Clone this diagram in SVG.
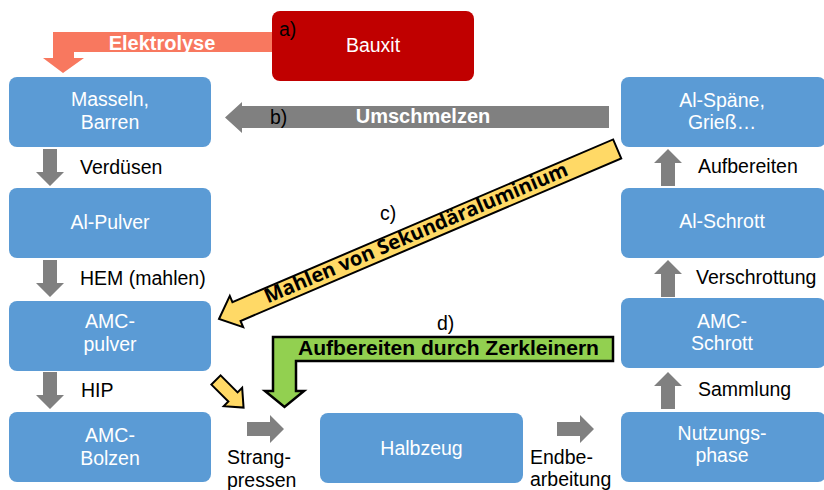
<svg xmlns="http://www.w3.org/2000/svg" width="824" height="490" viewBox="0 0 824 490">
<style>
.box{fill:#5B9BD5}
.bt{font-family:"Liberation Sans",Arial,sans-serif;font-size:19.5px;fill:#fff;text-anchor:middle}
.lb{font-family:"Liberation Sans",Arial,sans-serif;font-size:19.5px;fill:#000}
.bold{font-family:"Liberation Sans",Arial,sans-serif;font-size:20px;font-weight:bold}
.ga{fill:#808080}
</style>
<defs>
<path id="arr" d="M-7,0 H7 V23 H14 L0,37 L-14,23 H-7 Z"/>
</defs>
<rect width="824" height="490" fill="#fff"/>

<g id="connectors">
  <!-- Elektrolyse -->
  <polygon points="280,32 53,32 53,58 43,58 63,73 84,58 74,58 74,52 280,52" fill="#F8785F"/>
  <text class="bold" x="162" y="50" fill="#fff" text-anchor="middle">Elektrolyse</text>
  <!-- Umschmelzen -->
  <polygon points="609,106 242,106 242,102 225,117.5 242,133 242,128 609,128" fill="#808080"/>
  <text class="lb" x="270" y="124">b)</text>
  <text class="bold" x="423" y="123" fill="#fff" text-anchor="middle">Umschmelzen</text>
  <!-- c) Mahlen -->
  <g transform="translate(219,319) rotate(-23.13)">
    <polygon points="0,0 19,-17 19,-10.3 433,-10.3 433,10.3 19,10.3 19,17" fill="#FFD966" stroke="#000" stroke-width="2" stroke-linejoin="miter"/>
    <text x="215" y="5" text-anchor="middle" font-family="'Open Sans','DejaVu Sans',sans-serif" font-weight="bold" font-size="20" fill="#000" textLength="328" lengthAdjust="spacingAndGlyphs">Mahlen von Sekundäraluminium</text>
  </g>
  <text class="lb" x="380" y="220">c)</text>
  <!-- small yellow arrow -->
  <g transform="translate(216,380) rotate(45)">
    <polygon points="0,-6.5 24,-6.5 24,-13 39,0 24,13 24,6.5 0,6.5" fill="#FFD966" stroke="#000" stroke-width="2"/>
  </g>
  <!-- d) green -->
  <polygon points="613,337 273,337 273,391 265,391 284.5,407 304,391 296,391 296,361 613,361" fill="#92D050" stroke="#000" stroke-width="2.5"/>
  <text class="bold" x="298" y="355" fill="#000" textLength="301" lengthAdjust="spacingAndGlyphs">Aufbereiten durch Zerkleinern</text>
  <text class="lb" x="437" y="330">d)</text>

  <!-- gray down arrows left -->
  <use href="#arr" class="ga" transform="translate(50,149)"/>
  <use href="#arr" class="ga" transform="translate(50,260)"/>
  <use href="#arr" class="ga" transform="translate(50,372)"/>
  <!-- up arrows right -->
  <use href="#arr" class="ga" transform="translate(668,186) rotate(180)"/>
  <use href="#arr" class="ga" transform="translate(668,297) rotate(180)"/>
  <use href="#arr" class="ga" transform="translate(668,409) rotate(180)"/>
  <!-- right arrows bottom -->
  <use href="#arr" class="ga" transform="translate(247,429) rotate(-90)"/>
  <use href="#arr" class="ga" transform="translate(557,429) rotate(-90)"/>

  <text class="lb" x="80" y="174">Verdüsen</text>
  <text class="lb" x="80" y="285">HEM (mahlen)</text>
  <text class="lb" x="81" y="397">HIP</text>
  <text class="lb" x="698" y="173">Aufbereiten</text>
  <text class="lb" x="696" y="284">Verschrottung</text>
  <text class="lb" x="698" y="396">Sammlung</text>
  <text class="lb" x="227" y="464">Strang-</text>
  <text class="lb" x="227" y="487">pressen</text>
  <text class="lb" x="530" y="464">Endbe-</text>
  <text class="lb" x="530" y="486">arbeitung</text>
</g>

<g id="bauxit">
  <rect x="272" y="11" width="202" height="70" rx="8" fill="#C00000"/>
  <text class="lb" x="279" y="36">a)</text>
  <text class="bt" x="373" y="52">Bauxit</text>
</g>
<g id="masseln">
  <rect class="box" x="9" y="77" width="202" height="70" rx="8"/>
  <text class="bt" x="110" y="106">Masseln,</text>
  <text class="bt" x="110" y="129">Barren</text>
</g>
<g id="alpulver">
  <rect class="box" x="9" y="188" width="202" height="70" rx="8"/>
  <text class="bt" x="110" y="229">Al-Pulver</text>
</g>
<g id="amcpulver">
  <rect class="box" x="9" y="301" width="202" height="70" rx="8"/>
  <text class="bt" x="110" y="328">AMC-</text>
  <text class="bt" x="110" y="351">pulver</text>
</g>
<g id="amcbolzen">
  <rect class="box" x="9" y="412" width="202" height="70" rx="8"/>
  <text class="bt" x="110" y="442">AMC-</text>
  <text class="bt" x="110" y="465">Bolzen</text>
</g>
<g id="halbzeug">
  <rect class="box" x="320" y="413" width="203" height="70" rx="8"/>
  <text class="bt" x="421.5" y="455">Halbzeug</text>
</g>
<g id="alspaene">
  <rect class="box" x="621" y="77" width="205" height="70" rx="8"/>
  <text class="bt" x="722" y="107">Al-Späne,</text>
  <text class="bt" x="722" y="129">Grieß…</text>
</g>
<g id="alschrott">
  <rect class="box" x="621" y="188" width="205" height="70" rx="8"/>
  <text class="bt" x="722" y="228">Al-Schrott</text>
</g>
<g id="amcschrott">
  <rect class="box" x="621" y="298" width="205" height="70" rx="8"/>
  <text class="bt" x="722" y="328">AMC-</text>
  <text class="bt" x="722" y="350">Schrott</text>
</g>
<g id="nutzungsphase">
  <rect class="box" x="621" y="412" width="205" height="70" rx="8"/>
  <text class="bt" x="722" y="440">Nutzungs-</text>
  <text class="bt" x="722" y="462">phase</text>
</g>
</svg>
